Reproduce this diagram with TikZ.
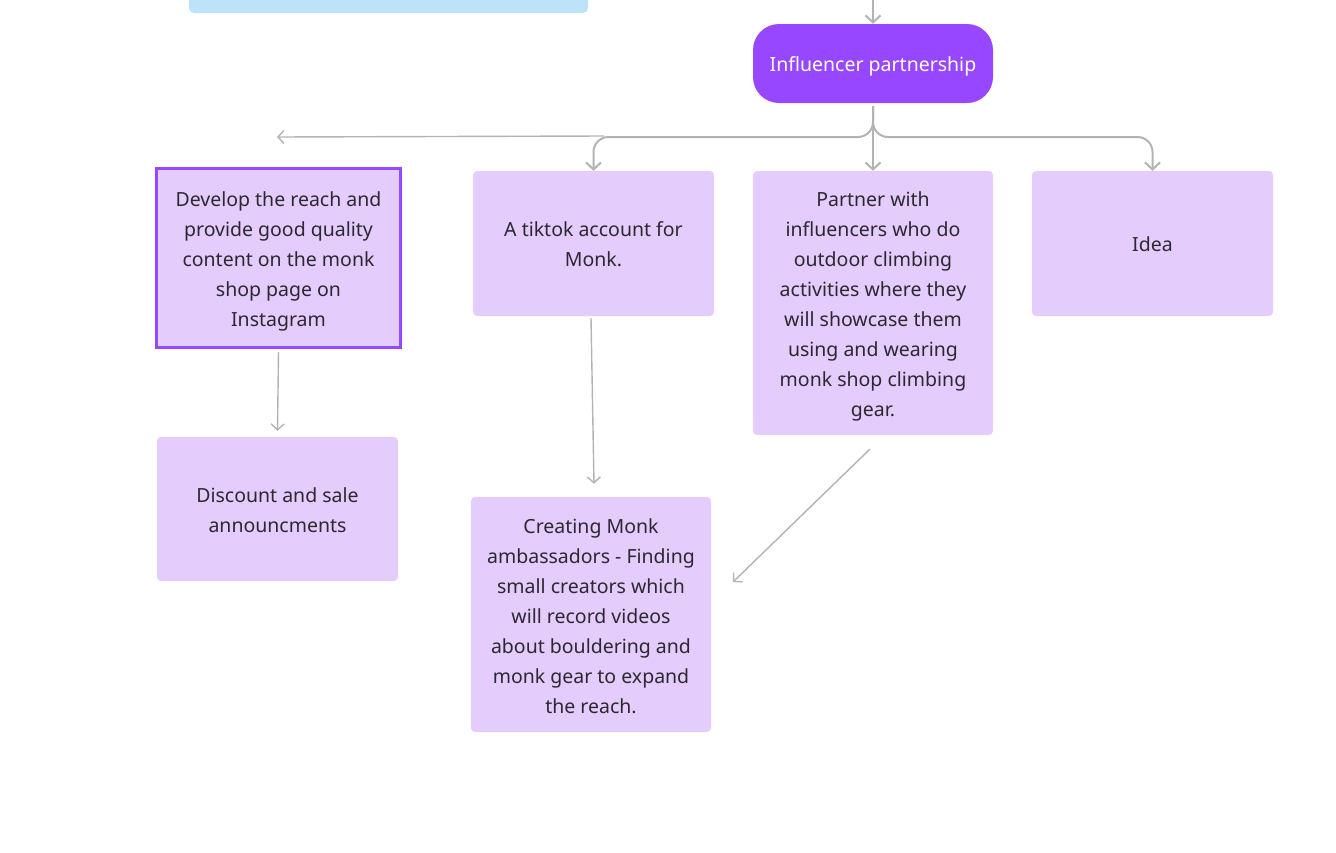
\documentclass[tikz,border=0pt]{standalone}
\usepackage{fontspec}
\setmainfont{Noto Sans}
\usetikzlibrary{arrows.meta}
\definecolor{boxfill}{HTML}{E4CCFD}
\definecolor{violet}{HTML}{9747FF}
\definecolor{linegray}{HTML}{B3B3B3}
\definecolor{txt}{HTML}{2C2830}
\definecolor{bluefill}{HTML}{BDE3FB}
\tikzset{
  card/.style={fill=boxfill, draw=none, rounded corners=4pt, inner sep=0pt},
  selcard/.style={card, draw=violet, line width=3pt, rounded corners=0pt},
  cardtext/.style={align=center, text=txt, font=\fontsize{19.5}{30}\selectfont, inner sep=0pt},
  mainnode/.style={fill=violet, rounded corners=26pt, inner sep=0pt, minimum width=240pt, minimum height=79pt},
  maintext/.style={align=center, text=white, font=\fontsize{19.5}{30}\selectfont, inner sep=0pt},
  conn/.style={draw=linegray, line width=1.4pt, -{Straight Barb[length=6pt,width=13pt,line width=1.4pt]}},
  branch/.style={draw=linegray, line width=2pt, rounded corners=15pt, -{Straight Barb[length=7pt,width=15pt,line width=2pt]}},
}
\begin{document}
\begin{tikzpicture}[x=1pt,y=-1pt]
\useasboundingbox (0,0) rectangle (1336,852);
\fill[bluefill, rounded corners=5pt] (189,-20) rectangle (588,13);

\node[mainnode] (ip) at (873,63.5) {};
\node[maintext] (ipt) at ([yshift=-3pt]ip.center) {Influencer partnership};
\coordinate (top) at (873,-2);

\node[selcard, minimum width=244pt, minimum height=179pt] (b1) at (278.5,258) {};
\node[cardtext] (b1t) at ([yshift=-3.5pt]b1.center)
  {Develop the reach and\\provide good quality\\content on the monk\\shop page on\\Instagram};
\node[card, minimum width=241pt, minimum height=145pt] (b2) at (593.5,243.5) {};
\node[cardtext] (b2t) at ([yshift=-0.5pt]b2.center) {A tiktok account for\\Monk.};
\node[card, minimum width=240pt, minimum height=264pt] (b3) at (873,303) {};
\node[cardtext] (b3t) at ([yshift=-3.5pt]b3.center)
  {Partner with\\influencers who do\\outdoor climbing\\activities where they\\will showcase them\\using and wearing\\monk shop climbing\\gear.};
\node[card, minimum width=241pt, minimum height=145pt] (b4) at (1152.5,243.5) {};
\node[cardtext] (b4t) at ([yshift=-0.5pt]b4.center) {Idea};
\node[card, minimum width=241pt, minimum height=144pt] (b5) at (277.5,509) {};
\node[cardtext] (b5t) at ([yshift=-1.5pt]b5.center) {Discount and sale\\announcments};
\node[card, minimum width=240pt, minimum height=235pt] (b6) at (591,614.5) {};
\node[cardtext] (b6t) at ([yshift=-1.5pt]b6.center)
  {Creating Monk\\ambassadors - Finding\\small creators which\\will record videos\\about bouldering and\\monk gear to expand\\the reach.};

% incoming arrow from above
\draw[branch] (top) -- (ip.north);

% branches
\coordinate (split) at (873,137);
\coordinate (leftfree) at (277,137);
\coordinate (lstart) at (604,136);
\draw[branch] ([yshift=-3pt]ip.south) -- (split) -| (b2.north);
\draw[branch] ([yshift=-3pt]ip.south) -- (b3.north);
\draw[branch] ([yshift=-3pt]ip.south) -- (split) -| (b4.north);
\draw[conn] (lstart) -- (leftfree);

% other connectors
\draw[conn] ([yshift=-3pt]b1.south) -- ([yshift=6pt]b5.north);
\draw[conn] ([xshift=-2.5pt,yshift=-2pt]b2.south) -- ([xshift=3pt,yshift=13pt]b6.north);
\coordinate (dstart) at (870,449);
\coordinate (dend) at (733,582);
\draw[conn] (dstart) -- (dend);
\end{tikzpicture}
\end{document}
